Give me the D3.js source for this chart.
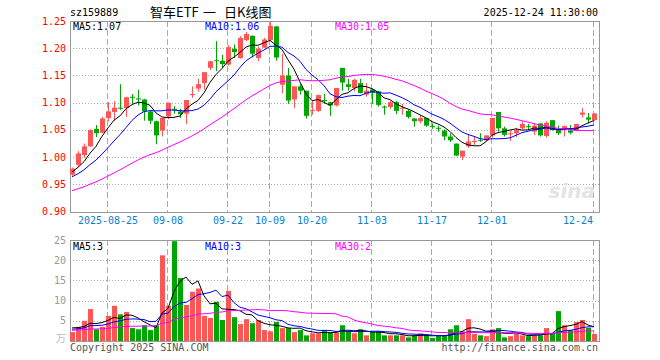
<!DOCTYPE html>
<html>
<head>
<meta charset="utf-8">
<script src="https://cdn.jsdelivr.net/npm/d3@7"></script>
<style>
  body { margin: 0; background: #fff; }
  text { font-family: "DejaVu Sans Mono", "Liberation Mono", monospace; font-size: 10px; }
</style>
</head>
<body>
<div class="chart"></div>
<script>
// trading days shown on the chart
const dates = [
  '2025-08-15','2025-08-18','2025-08-19','2025-08-20','2025-08-21','2025-08-22',
  '2025-08-25','2025-08-26','2025-08-27','2025-08-28','2025-08-29',
  '2025-09-01','2025-09-02','2025-09-03','2025-09-04','2025-09-05',
  '2025-09-08','2025-09-09','2025-09-10','2025-09-11','2025-09-12',
  '2025-09-15','2025-09-16','2025-09-17','2025-09-18','2025-09-19',
  '2025-09-22','2025-09-23','2025-09-24','2025-09-25','2025-09-26',
  '2025-09-29','2025-09-30','2025-10-09','2025-10-10',
  '2025-10-13','2025-10-14','2025-10-15','2025-10-16','2025-10-17',
  '2025-10-20','2025-10-21','2025-10-22','2025-10-23','2025-10-24',
  '2025-10-27','2025-10-28','2025-10-29','2025-10-30','2025-10-31',
  '2025-11-03','2025-11-04','2025-11-05','2025-11-06','2025-11-07',
  '2025-11-10','2025-11-11','2025-11-12','2025-11-13','2025-11-14',
  '2025-11-17','2025-11-18','2025-11-19','2025-11-20','2025-11-21',
  '2025-11-24','2025-11-25','2025-11-26','2025-11-27','2025-11-28',
  '2025-12-01','2025-12-02','2025-12-03','2025-12-04','2025-12-05',
  '2025-12-08','2025-12-09','2025-12-10','2025-12-11','2025-12-12',
  '2025-12-15','2025-12-16','2025-12-17','2025-12-18','2025-12-19',
  '2025-12-22','2025-12-23','2025-12-24'
];

const open = [
  0.968,0.986,1.004,1.020,1.052,1.045,1.072,1.083,1.091,1.090,
  1.111,1.108,1.106,1.084,1.066,1.049,1.075,1.089,1.084,1.080,
  1.114,1.126,1.136,1.164,1.178,1.177,1.170,1.199,1.182,1.215,
  1.223,1.182,1.201,1.215,1.240,1.133,1.150,1.106,1.130,1.122,
  1.085,1.085,1.105,1.101,1.095,1.164,1.134,1.127,1.136,1.115,
  1.124,1.121,1.093,1.092,1.101,1.089,1.085,1.071,1.066,1.072,
  1.057,1.054,1.049,1.038,1.025,1.001,1.020,1.028,1.032,1.031,
  1.040,1.083,1.053,1.042,1.044,1.053,1.057,1.047,1.062,1.039,
  1.068,1.052,1.050,1.049,1.050,1.078,1.073,1.068
];
const high = [
  0.981,1.011,1.025,1.051,1.059,1.074,1.101,1.103,1.134,1.111,
  1.116,1.124,1.107,1.085,1.067,1.072,1.100,1.094,1.089,1.105,
  1.130,1.144,1.156,1.177,1.213,1.188,1.206,1.207,1.222,1.230,
  1.223,1.203,1.219,1.248,1.241,1.190,1.164,1.130,1.134,1.122,
  1.103,1.115,1.116,1.101,1.127,1.164,1.144,1.144,1.144,1.136,
  1.126,1.122,1.095,1.103,1.103,1.098,1.087,1.072,1.077,1.072,
  1.062,1.058,1.051,1.044,1.025,1.012,1.041,1.038,1.044,1.040,
  1.072,1.083,1.056,1.049,1.054,1.066,1.061,1.062,1.062,1.066,
  1.068,1.058,1.058,1.059,1.061,1.090,1.081,1.081
];
const low = [
  0.966,0.982,0.999,1.019,1.037,1.044,1.066,1.067,1.087,1.074,
  1.098,1.095,1.067,1.061,1.024,1.038,1.070,1.080,1.072,1.061,
  1.109,1.120,1.124,1.160,1.158,1.164,1.168,1.182,1.181,1.213,
  1.183,1.176,1.200,1.214,1.177,1.117,1.098,1.090,1.115,1.071,
  1.078,1.083,1.098,1.076,1.093,1.122,1.122,1.121,1.117,1.111,
  1.098,1.093,1.078,1.089,1.079,1.078,1.071,1.056,1.062,1.056,
  1.052,1.047,1.031,1.028,1.002,0.995,1.017,1.023,1.028,1.029,
  1.036,1.047,1.038,1.030,1.037,1.051,1.051,1.041,1.038,1.036,
  1.049,1.041,1.038,1.042,1.049,1.073,1.062,1.067
];
const close = [
  0.979,1.007,1.020,1.050,1.044,1.071,1.084,1.091,1.089,1.110,
  1.109,1.106,1.084,1.067,1.040,1.072,1.100,1.087,1.079,1.105,
  1.116,1.134,1.156,1.176,1.177,1.171,1.202,1.193,1.219,1.226,
  1.190,1.199,1.216,1.241,1.183,1.150,1.104,1.130,1.122,1.076,
  1.087,1.114,1.104,1.095,1.127,1.137,1.129,1.142,1.118,1.122,
  1.118,1.096,1.091,1.101,1.085,1.091,1.074,1.066,1.072,1.058,
  1.056,1.053,1.038,1.031,1.003,1.012,1.029,1.030,1.031,1.040,
  1.072,1.053,1.041,1.044,1.050,1.061,1.055,1.058,1.040,1.063,
  1.050,1.044,1.057,1.045,1.061,1.082,1.069,1.080
];
// volume, in 万
const volume = [
  2.2,3.5,5.0,7.9,2.9,3.5,6.2,8.7,6.6,7.2,
  3.2,2.9,3.9,2.7,3.9,21.2,8.7,24.7,15.6,8.9,
  12.2,13.0,6.2,5.7,9.7,5.2,12.4,5.9,4.2,5.4,
  4.4,5.2,2.7,2.4,4.7,3.2,3.2,2.2,2.7,1.4,
  1.9,1.9,2.7,2.2,2.2,3.9,2.4,1.9,2.9,1.4,
  2.4,2.4,1.4,1.4,1.4,1.4,0.9,1.4,1.9,1.4,
  0.75,1.25,1.25,2.9,3.9,2.4,5.4,1.75,1.4,1.2,
  2.9,3.2,0.9,1.2,1.9,1.4,1.2,1.4,1.4,3.2,
  1.9,7.4,3.9,2.7,4.7,5.2,3.25,1.75
];
// sessions before the window, only feed the moving averages
const priorClose = [
  0.905,0.910,0.908,0.915,0.918,0.912,0.920,0.925,0.922,0.928,
  0.930,0.926,0.932,0.935,0.930,0.938,0.940,0.936,0.942,0.948,
  0.950,0.948,0.955,0.960,0.962,0.965,0.968,0.973,0.980
];
const priorVolume = [
  2.4,2.8,2.2,3.0,2.5,2.1,2.9,2.6,2.3,2.7,
  2.4,3.1,2.2,2.6,2.5,2.8,2.3,2.7,2.5,2.6,
  2.3,2.8,2.4,2.6,2.65,3.2,3.6,3.9,3.35
];

const tickDates = ['2025-08-25','2025-09-08','2025-09-22','2025-10-09','2025-10-20',
                   '2025-11-03','2025-11-17','2025-12-01','2025-12-24'];
const tickLabels = ['2025-08-25','09-08','09-22','10-09','10-20','11-03','11-17','12-01','12-24'];
const priceTicks = [0.90,0.95,1.00,1.05,1.10,1.15,1.20,1.25];
const volTicks = [5,10,15,20,25];

const maSpecs = [{n:5, color:'#000'}, {n:10, color:'#0000ff'}, {n:30, color:'#ff00ff'}];

const RED = '#ff5555', GREEN = '#00a600', GRID = '#aaa';

const width = 660, height = 360;
const left = 70, right = 599;
const pTop = 21, pBottom = 212;
const vTop = 240, vBottom = 341;

const svg = d3.select('.chart').append('svg')
  .attr('width', width).attr('height', height)
  .attr('viewBox', [0, 0, width, height]);

svg.append('rect').attr('width', width).attr('height', height).attr('fill', '#fff');

const x = d3.scaleLinear().domain([0, dates.length - 1]).range([72, 594]);
const cx = i => Math.round(x(i));
const yP = d3.scaleLinear().domain([0.90, 1.25]).range([211.7, pTop]);
const yV = d3.scaleLinear().domain([0, 25]).range([vBottom, vTop]);

function movingAvg(prior, vals, n) {
  const all = prior.concat(vals);
  return vals.map((v, i) => {
    const end = prior.length + i + 1;
    return d3.mean(all.slice(end - n, end));
  });
}

const tickIdx = tickDates.map(d => dates.indexOf(d));

function panel(top, bottom, yScale, ticks) {
  const g = svg.append('g');
  // horizontal dotted grid
  g.selectAll('line.h').data(ticks).join('line')
    .attr('x1', left).attr('x2', right)
    .attr('y1', d => Math.round(yScale(d)) + 0.5).attr('y2', d => Math.round(yScale(d)) + 0.5)
    .attr('stroke', GRID).attr('stroke-dasharray', '1,2');
  // vertical dashed grid at date ticks
  g.selectAll('line.v').data(tickIdx).join('line')
    .attr('x1', i => cx(i) - 0.5).attr('x2', i => cx(i) - 0.5)
    .attr('y1', top).attr('y2', bottom)
    .attr('stroke', GRID).attr('stroke-dasharray', '6,3');
  g.append('rect')
    .attr('x', left + 0.5).attr('y', top + 0.5)
    .attr('width', right - left).attr('height', bottom - top)
    .attr('fill', 'none').attr('stroke', '#999');
  return g;
}

// ---- price panel
panel(pTop, pBottom, yP, priceTicks);

svg.append('g').selectAll('text').data(priceTicks).join('text')
  .attr('x', 66).attr('y', d => yP(d)).attr('dy', '0.35em')
  .attr('text-anchor', 'end').attr('fill', '#ff0000')
  .text(d => d.toFixed(2));

const candles = svg.append('g').selectAll('g').data(dates).join('g')
  .attr('fill', (d, i) => close[i] >= open[i] ? RED : GREEN)
  .attr('stroke', (d, i) => close[i] >= open[i] ? RED : GREEN);
candles.append('line')
  .attr('x1', (d, i) => cx(i) + 0.5).attr('x2', (d, i) => cx(i) + 0.5)
  .attr('y1', (d, i) => yP(high[i])).attr('y2', (d, i) => yP(low[i]));
candles.append('rect')
  .attr('stroke', 'none')
  .attr('x', (d, i) => cx(i) - 2).attr('width', 5)
  .attr('y', (d, i) => yP(Math.max(open[i], close[i])))
  .attr('height', (d, i) => Math.max(1, Math.abs(yP(open[i]) - yP(close[i]))));

const priceMA = maSpecs.map(s => ({...s, vals: movingAvg(priorClose, close, s.n)}));
const line = y => d3.line().x((d, i) => x(i)).y(d => y(d));
svg.append('g').selectAll('path').data(priceMA).join('path')
  .attr('d', d => line(yP)(d.vals))
  .attr('fill', 'none').attr('stroke', d => d.color).attr('stroke-width', 1);

const legendX = [73, 205, 335];
svg.append('g').selectAll('text').data(priceMA).join('text')
  .attr('x', (d, i) => legendX[i]).attr('y', 30)
  .attr('fill', d => d.color)
  .text(d => `MA${d.n}:${d.vals[d.vals.length - 1].toFixed(2)}`);

// date labels
svg.append('g').selectAll('text').data(tickIdx).join('text')
  .attr('x', (d, i) => i === tickIdx.length - 1 ? 593 : cx(d))
  .attr('y', 224)
  .attr('text-anchor', (d, i) => i === tickIdx.length - 1 ? 'end' : 'middle')
  .attr('fill', '#0a7fd0')
  .text((d, i) => tickLabels[i]);

// sina watermark
svg.append('text').attr('x', 595).attr('y', 198).attr('text-anchor', 'end')
  .style('font-family', 'DejaVu Sans').style('font-size', '20px')
  .style('font-style', 'italic').style('font-weight', 'bold')
  .attr('fill', '#e4e4e4').text('sina');

// ---- volume panel
panel(vTop, vBottom, yV, volTicks);

svg.append('g').selectAll('text').data(volTicks).join('text')
  .attr('x', 66).attr('y', d => yV(d)).attr('dy', '0.35em')
  .attr('text-anchor', 'end').attr('fill', '#999')
  .text(d => d);
svg.append('text').attr('x', 66).attr('y', vBottom).attr('dy', '0.1em')
  .attr('text-anchor', 'end').attr('fill', '#bbb')
  .style('font-family', 'Noto Sans CJK SC').text('万');

svg.append('g').selectAll('rect').data(volume).join('rect')
  .attr('x', (d, i) => cx(i) - 2).attr('width', 5)
  .attr('y', d => yV(d)).attr('height', d => vBottom - yV(d))
  .attr('fill', (d, i) => close[i] >= open[i] ? RED : GREEN);

const volMA = maSpecs.map(s => ({...s, vals: movingAvg(priorVolume, volume, s.n)}));
svg.append('g').selectAll('path').data(volMA).join('path')
  .attr('d', d => line(yV)(d.vals))
  .attr('fill', 'none').attr('stroke', d => d.color).attr('stroke-width', 1);

svg.append('g').selectAll('text').data(volMA).join('text')
  .attr('x', (d, i) => legendX[i]).attr('y', 250)
  .attr('fill', d => d.color)
  .text(d => `MA${d.n}:${Math.floor(d.vals[d.vals.length - 1])}`);

// ---- header and footer
svg.append('text').attr('x', 70).attr('y', 16).attr('fill', '#000').text('sz159889');
const title = svg.append('text').attr('y', 17).attr('fill', '#000')
  .style('font-family', '"Noto Sans CJK SC"').style('font-size', '13px');
title.append('tspan').attr('x', 150).text('智车ETF');
title.append('tspan').attr('x', 203).text('一');
title.append('tspan').attr('x', 224).text('日K线图');
svg.append('text').attr('x', 598).attr('y', 16).attr('text-anchor', 'end')
  .attr('fill', '#000').text('2025-12-24 11:30:00');

svg.append('text').attr('x', 70).attr('y', 351).attr('fill', '#555').text('Copyright 2025 SINA.COM');
svg.append('text').attr('x', 598).attr('y', 351).attr('text-anchor', 'end')
  .attr('fill', '#555').text('http://finance.sina.com.cn');
</script>
</body>
</html>
